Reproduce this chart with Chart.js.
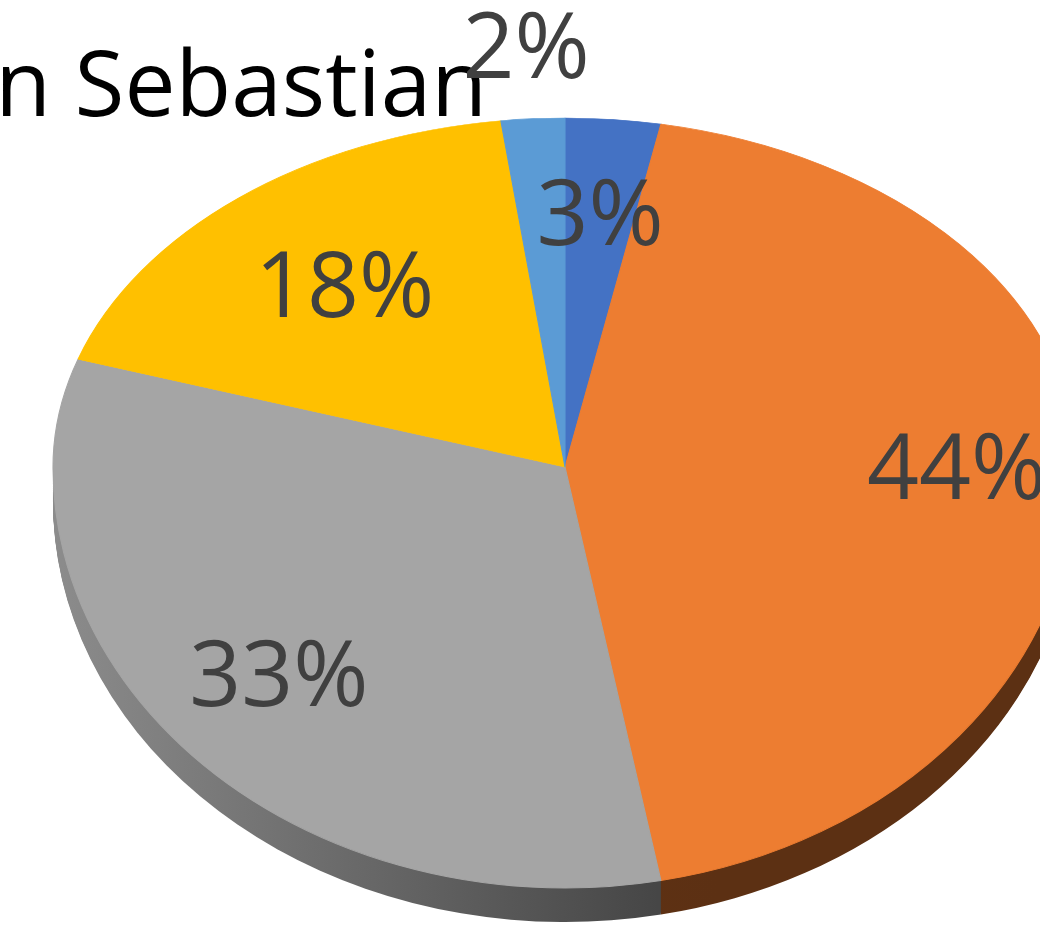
<!DOCTYPE html>
<html><head><meta charset="utf-8">
<script src="https://cdn.jsdelivr.net/npm/chart.js@4.4.1/dist/chart.umd.min.js"></script>
<style>html,body{margin:0;padding:0;background:#fff;overflow:hidden}canvas{display:block}</style>
</head><body>
<canvas id="c" width="1040" height="932"></canvas>
<script>
// ---- data ----
const categories = ['Categoría 1', 'Categoría 2', 'Categoría 3', 'Categoría 4', 'Categoría 5'];
const values = [3, 44, 33, 18, 2];
const titleText = 'San Sebastian';

// ---- styles ----
const topColors = ['#4472C4', '#ED7D31', '#A5A5A5', '#FFC000', '#5B9BD5'];
const sideColors = [['#2f4f8a', '#243e6e'], ['#6a3716', '#5c3013'], ['#8c8c8c', '#3f3f3f'], ['#a67d00', '#8a6800'], ['#3e6c98', '#31587d']];
const labelRadius = [0.73, 0.765, 0.745, 0.675, 1.21];
const GEO = { cx: 565, cy: 467, rx: 512, ryTop: 349, ryBot: 421, depth: 34 };
const FONT = '"Open Sans", "DejaVu Sans", sans-serif';

const pie3d = {
  id: 'pie3d',
  beforeDatasetsDraw(chart) {
    const ctx = chart.ctx;
    const meta = chart.getDatasetMeta(0);
    const els = meta.data;
    const p0 = els[0].getProps(['x', 'y', 'outerRadius'], true);
    const R = p0.outerRadius, ox = p0.x, oy = p0.y;
    const W = chart.width, H = chart.height;
    const apply = (ry, dy) => {
      ctx.translate(GEO.cx, GEO.cy + dy);
      ctx.scale(GEO.rx / R, ry / R);
      ctx.translate(-ox, -oy);
    };
    // side gradients in chart space
    const grads = sideColors.map(([a, b]) => {
      const g = ctx.createLinearGradient(ox - R, 0, ox + R * 0.3, 0);
      g.addColorStop(0, a); g.addColorStop(1, b);
      return g;
    });
    // side (depth)
    ctx.save();
    ctx.beginPath(); ctx.rect(0, GEO.cy, W, H); ctx.clip();
    for (let k = GEO.depth; k >= 1; k--) {
      ctx.save();
      apply(GEO.ryBot, k);
      els.forEach((el, i) => {
        const p = el.getProps(['x', 'y', 'startAngle', 'endAngle', 'outerRadius'], true);
        ctx.beginPath();
        ctx.moveTo(p.x, p.y);
        ctx.arc(p.x, p.y, p.outerRadius, p.startAngle, p.endAngle);
        ctx.closePath();
        ctx.fillStyle = grads[i];
        ctx.fill();
      });
      ctx.restore();
    }
    ctx.restore();
    // top face, two halves (perspective-like)
    [[0, GEO.cy, GEO.ryTop], [GEO.cy, H, GEO.ryBot]].forEach(([y0, y1, ry]) => {
      ctx.save();
      ctx.beginPath(); ctx.rect(0, y0, W, y1 - y0); ctx.clip();
      apply(ry, 0);
      meta.controller.draw();
      ctx.restore();
    });
    return false;
  },
  afterDraw(chart) {
    const ctx = chart.ctx;
    const meta = chart.getDatasetMeta(0);
    const total = values.reduce((a, b) => a + b, 0);
    ctx.save();
    // title (cropped on the left)
    ctx.fillStyle = '#000000';
    ctx.font = '91px ' + FONT;
    ctx.textAlign = 'right';
    ctx.textBaseline = 'alphabetic';
    ctx.fillText(titleText, 487, 116);
    // percentage labels
    ctx.fillStyle = '#404040';
    ctx.textAlign = 'center';
    meta.data.forEach((el, i) => {
      const p = el.getProps(['startAngle', 'endAngle'], true);
      const mid = (p.startAngle + p.endAngle) / 2;
      const ux = Math.cos(mid) * labelRadius[i];
      const uy = Math.sin(mid) * labelRadius[i];
      const x = GEO.cx + ux * GEO.rx;
      const y = GEO.cy + uy * (uy < 0 ? GEO.ryTop : GEO.ryBot);
      ctx.fillText(Math.round(values[i] / total * 100) + '%', x, y + 32);
    });
    ctx.restore();
  }
};

new Chart(document.getElementById('c'), {
  type: 'pie',
  data: {
    labels: categories,
    datasets: [{
      data: values,
      backgroundColor: topColors,
      borderColor: topColors,
      borderWidth: 1
    }]
  },
  options: {
    responsive: false,
    animation: false,
    devicePixelRatio: 1,
    events: [],
    layout: { padding: 0 },
    plugins: { legend: { display: false }, tooltip: { enabled: false }, title: { display: false } }
  },
  plugins: [pie3d]
});
</script>
</body></html>
